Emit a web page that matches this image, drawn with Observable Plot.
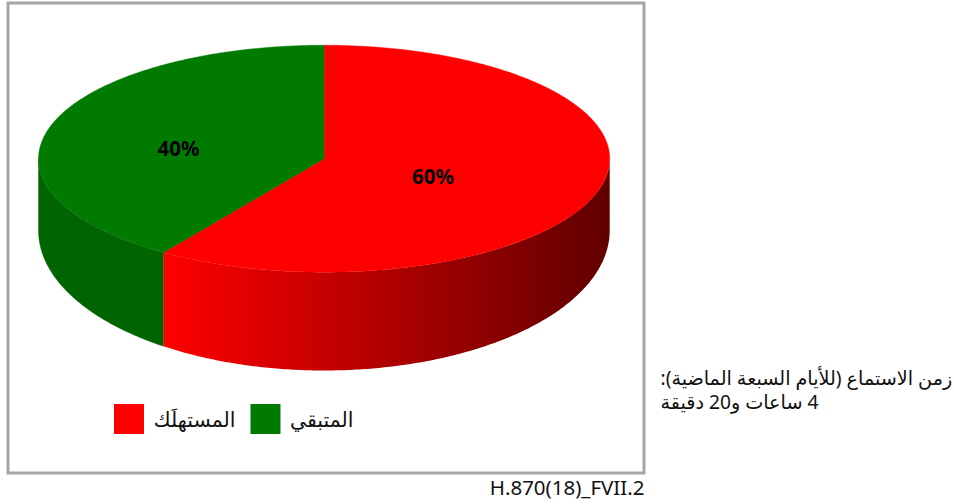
<!DOCTYPE html>
<html lang="ar">
<head>
<meta charset="utf-8">
<script src="https://cdn.jsdelivr.net/npm/d3@7"></script>
<script src="https://cdn.jsdelivr.net/npm/@observablehq/plot@0.6"></script>
<style>
html,body{margin:0;padding:0;background:#fff}
svg{display:block}
</style>
</head>
<body>
<div id="chart"></div>
<script>
const categories = ["المستهلَك", "المتبقي"];
const shares = [59.5, 40.5];
const shareLabels = ["60%", "40%"];
const noteLines = ["زمن الاستماع (للأيام السبعة الماضية):", "4 ساعات و20 دقيقة"];
const figureId = "H.870(18)_FVII.2";

const cx = 323.6, cy = 158.2, rx = 285.6, ry = 113.5;
const baseCy = 230, baseRy = 140;
const fullFont = '"Noto Sans", "DejaVu Sans", sans-serif';
const topColors = ["#ff0000", "#007a00"];
const greenWall = "#006400";

const splitAngle = shares[0] / d3.sum(shares) * 2 * Math.PI;
const topPoint = a => ({x: cx + rx * Math.sin(a), y: cy - ry * Math.cos(a)});
const basePoint = a => ({x: cx + rx * Math.sin(a), y: baseCy - baseRy * Math.cos(a)});
const arc = (a0, a1, pt = topPoint) => {
  const n = Math.max(2, Math.ceil(Math.abs(a1 - a0) / 0.01));
  return d3.range(n + 1).map(i => pt(a0 + (a1 - a0) * i / n));
};
const center = {x: cx, y: cy};
const sector = (a0, a1) => [center, ...arc(a0, a1), center];
const wall = (a0, a1) => [...arc(a0, a1), ...arc(a1, a0, basePoint), topPoint(a0)];

const poly = (pts, fill) =>
  Plot.line(pts, {x: "x", y: "y", fill, stroke: fill === "url(#redWall)" ? "none" : fill, strokeWidth: 0.4, curve: "linear"});

const pxText = (text, x, y, opts) =>
  Plot.text([text], {x: () => x, y: () => y, text: d => d, fontFamily: fullFont, fill: "#111", lineAnchor: "middle", ...opts});
const swatch = (x0, y0, size, fill) =>
  Plot.rect([0], {x1: () => x0, x2: () => x0 + size, y1: () => y0, y2: () => y0 + size, fill});

const rtl = s => "\u202B" + s + "\u202C";

const chart = Plot.plot({
  width: 954,
  height: 504,
  margin: 0,
  x: {domain: [0, 954], range: [0, 954], axis: null},
  y: {domain: [0, 504], range: [0, 504], axis: null},
  style: {background: "#fff"},
  marks: [
    Plot.frame({insetLeft: 7.5, insetTop: 2.5, insetRight: 310.5, insetBottom: 31.5, stroke: "#a6a6a6", strokeWidth: 3}),
    poly(wall(splitAngle, 1.5 * Math.PI), greenWall),
    poly(wall(0.5 * Math.PI, splitAngle), "url(#redWall)"),
    poly(sector(0, splitAngle), topColors[0]),
    poly(sector(splitAngle, 2 * Math.PI), topColors[1]),
    pxText(shareLabels[0], 432.5, 177, {fontWeight: "bold", fontSize: 20.5, fill: "#000"}),
    pxText(shareLabels[1], 178, 149, {fontWeight: "bold", fontSize: 20.5, fill: "#000"}),
    swatch(114, 404, 30, topColors[0]),
    pxText(categories[0], 235, 420, {textAnchor: "end", fontSize: 20.5}),
    swatch(250.5, 404, 30, topColors[1]),
    pxText(categories[1], 353, 420, {textAnchor: "end", fontSize: 20.5}),
    pxText(noteLines.map(rtl).join("\n"), 660, 388.5, {textAnchor: "start", fontSize: 19.2, lineHeight: 1.3}),
    pxText(figureId, 644, 488, {textAnchor: "end", fontSize: 20.5})
  ]
});

const defs = d3.select(chart).insert("defs", ":first-child");
const grad = defs.append("linearGradient").attr("id", "redWall")
  .attr("x1", 0).attr("x2", 1).attr("y1", 0).attr("y2", 0);
grad.append("stop").attr("offset", "0%").attr("stop-color", "#ff0000");
grad.append("stop").attr("offset", "100%").attr("stop-color", "#600000");

document.getElementById("chart").append(chart);
</script>
</body>
</html>
